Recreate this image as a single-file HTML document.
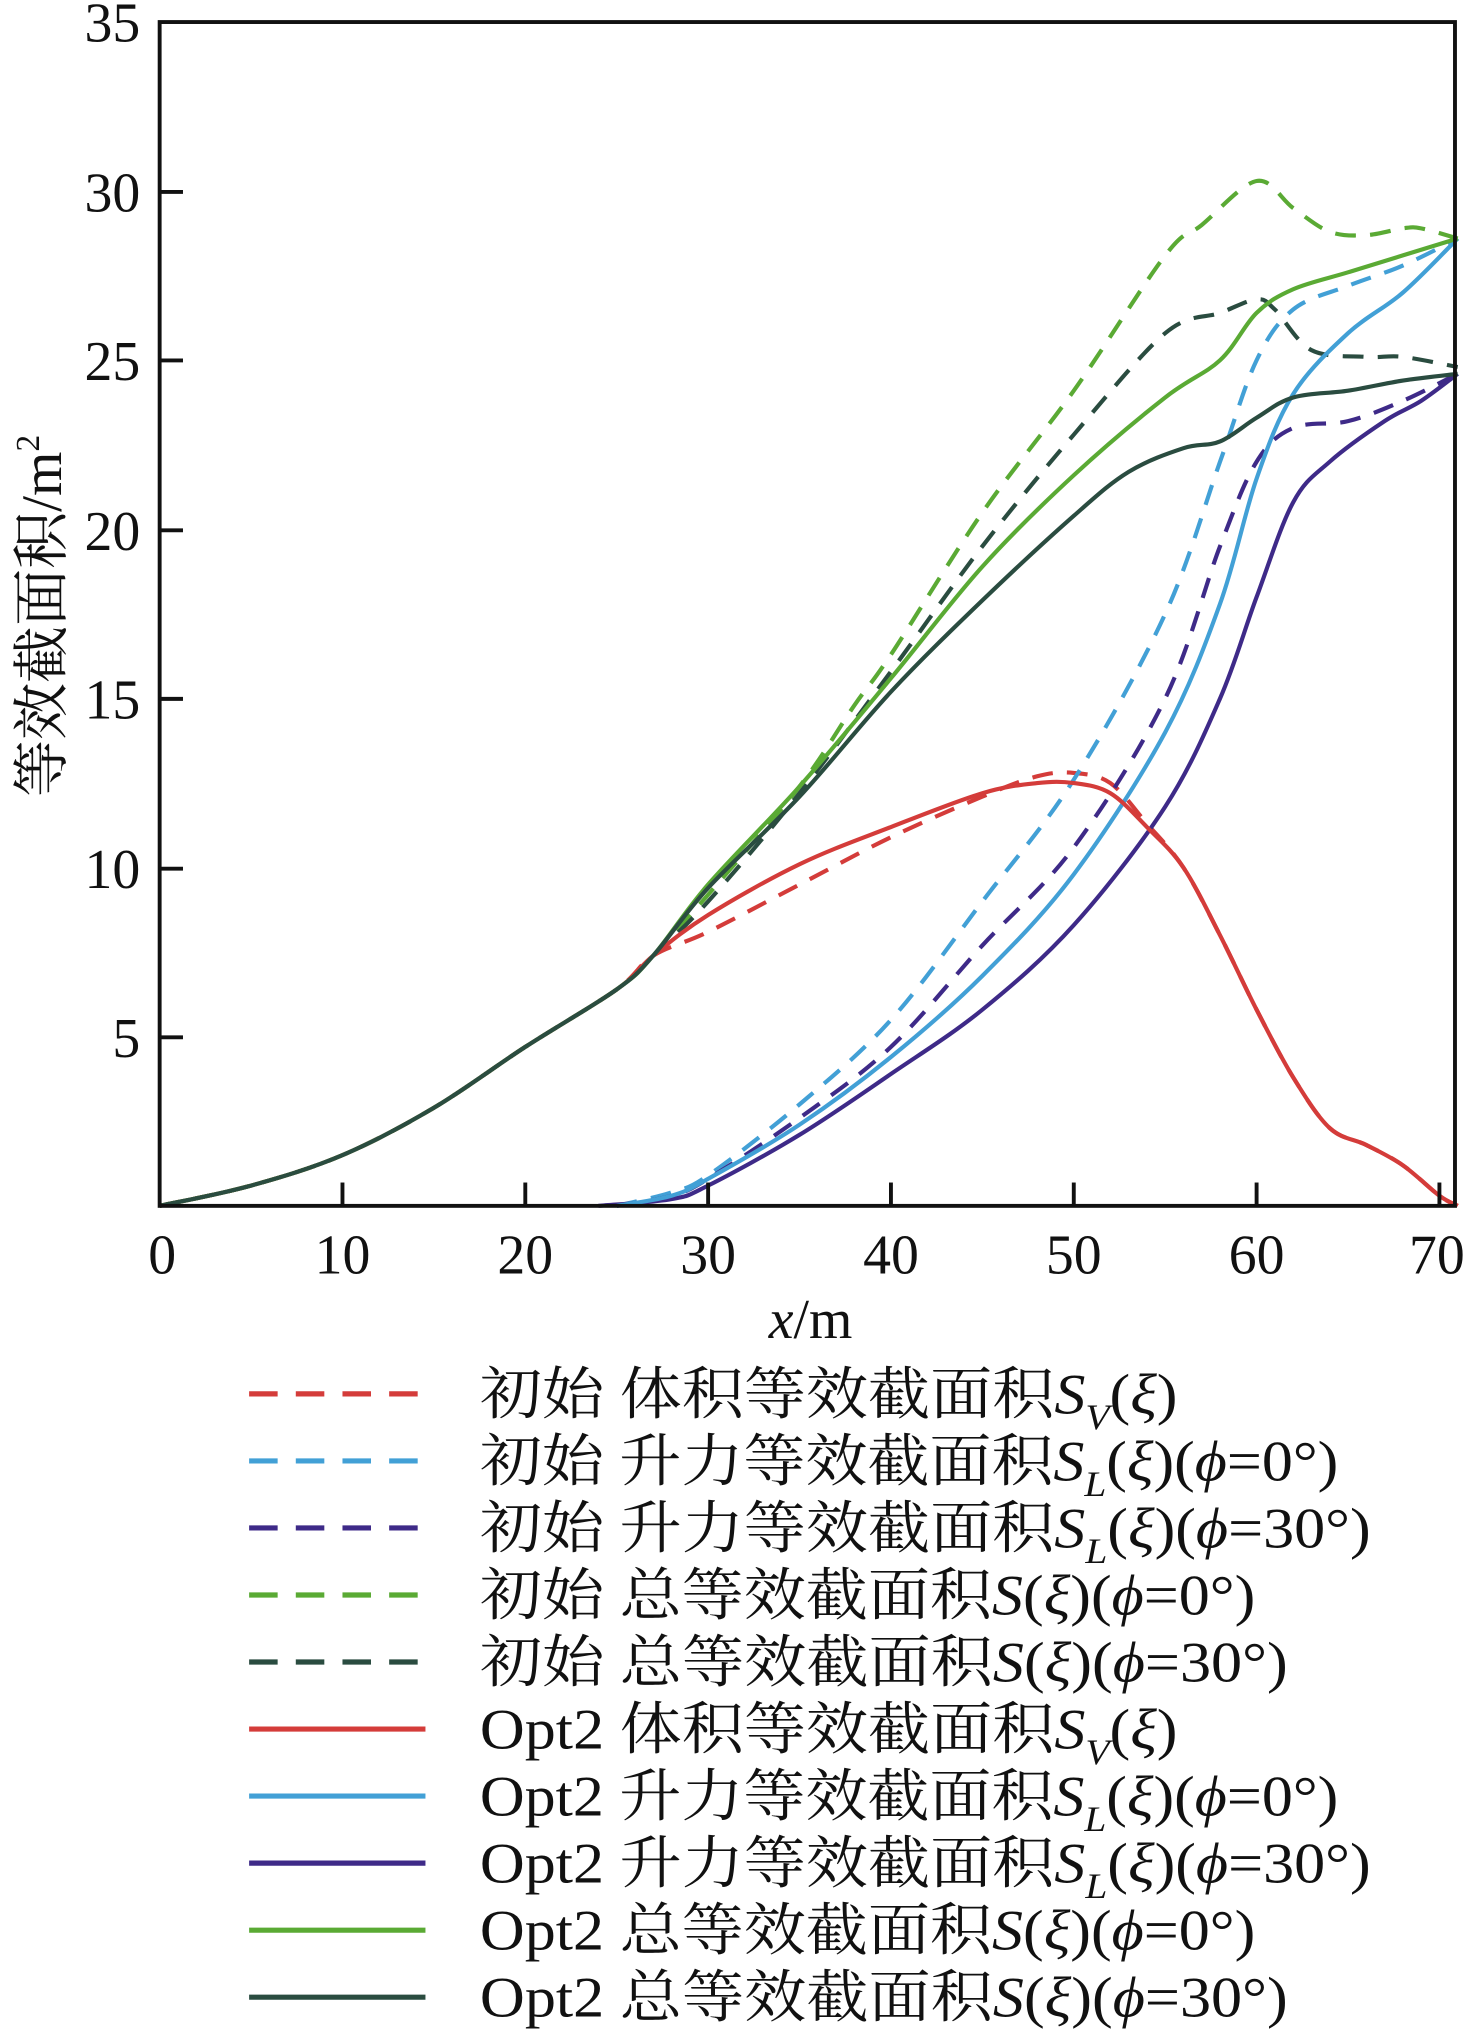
<!DOCTYPE html>
<html><head><meta charset="utf-8">
<style>
html,body{margin:0;padding:0;background:#fff;}
svg{display:block;}
text{font-family:"Liberation Serif","Noto Serif CJK SC",serif;fill:#111;}
</style></head>
<body>
<svg id="s" width="1472" height="2037" viewBox="0 0 1135 1571" xmlns="http://www.w3.org/2000/svg">
<rect x="0" y="0" width="1135" height="1571" fill="#fff"/>
<g id="curves"></g>
<rect x="123" y="17" width="999" height="913" fill="none" stroke="#111" stroke-width="3"/>
<g stroke="#111" stroke-width="3">
<line x1="264" y1="930" x2="264" y2="912"/><line x1="405" y1="930" x2="405" y2="912"/>
<line x1="546" y1="930" x2="546" y2="912"/><line x1="687" y1="930" x2="687" y2="912"/>
<line x1="828" y1="930" x2="828" y2="912"/><line x1="969" y1="930" x2="969" y2="912"/>
<line x1="1110" y1="930" x2="1110" y2="912"/>
<line x1="123" y1="800" x2="141" y2="800"/><line x1="123" y1="670" x2="141" y2="670"/>
<line x1="123" y1="539" x2="141" y2="539"/><line x1="123" y1="409" x2="141" y2="409"/>
<line x1="123" y1="278" x2="141" y2="278"/><line x1="123" y1="148" x2="141" y2="148"/>
</g>
<g font-size="43" text-anchor="end">
<text x="108" y="815">5</text><text x="108" y="685">10</text><text x="108" y="554">15</text>
<text x="108" y="424">20</text><text x="108" y="293">25</text><text x="108" y="163">30</text><text x="108" y="32">35</text>
</g>
<g font-size="43" text-anchor="middle">
<text x="125" y="982">0</text><text x="264" y="982">10</text><text x="405" y="982">20</text>
<text x="546" y="982">30</text><text x="687" y="982">40</text><text x="828" y="982">50</text>
<text x="969" y="982">60</text><text x="1108" y="982">70</text>
<text x="625" y="1032"><tspan font-style="italic">x</tspan>/m</text>
</g>
<text font-size="44" transform="translate(47,475) rotate(-90)" text-anchor="middle">等效截面积/m<tspan font-size="26" dy="-17">2</tspan></text>
<g id="legend"></g>
</svg>
<script>
var X=function(v){return 123+v*14.1;}, Y=function(v){return 930-v*26.086;};
var base=[[0,0],[5,0.6],[10,1.5],[15,2.9],[20,4.7],[25,6.4],[27,7.4]];
var S={
gs:base.concat([[30,9.5],[35,12.4],[40,15.6],[45,18.9],[50,21.6],[55,23.9],[58,25],[60,26.4],[62,27.1],[65,27.6],[68,28.1],[71,28.6]]),
ds:base.concat([[30,9.4],[35,12.1],[40,15.2],[45,17.9],[50,20.4],[53,21.7],[56,22.4],[58,22.6],[60,23.3],[62,23.9],[65,24.1],[68,24.4],[71,24.6]]),
gd:base.concat([[30,9.2],[35,12.4],[38,14.8],[40,16.3],[45,20.5],[50,24.1],[55,28.1],[57,29],[60,30.3],[62,29.5],[64,28.8],[66,28.7],[68,28.9],[69,28.9],[71,28.6]]),
dd:base.concat([[30,9],[35,12.2],[40,15.8],[45,19.5],[50,22.8],[55,25.8],[58,26.4],[60,26.8],[61,26.5],[63,25.3],[66,25.1],[68,25.1],[71,24.8]]),
rs:base.concat([[30,8.6],[35,10.1],[40,11.2],[45,12.2],[48,12.5],[50,12.5],[52,12.2],[54,11.2],[56,10],[58,8],[60,5.8],[62,3.8],[64,2.3],[66,1.8],[68,1.2],[70,0.3],[71,0]]),
rd:base.concat([[30,8.1],[35,9.5],[40,10.9],[45,12.1],[48,12.7],[50,12.8],[52,12.5],[54,11.3],[56,10],[58,8],[60,5.8],[62,3.8],[64,2.3],[66,1.8],[68,1.2],[70,0.3],[71,0]]),
bs:[[25,0],[28,0.3],[30,0.8],[35,2.4],[40,4.4],[45,6.8],[50,9.8],[55,14],[58,17.8],[60,21.5],[62,24],[65,25.8],[68,27],[71,28.6]],
bd:[[25,0],[28,0.4],[30,0.9],[35,3],[40,5.5],[45,9],[50,12.6],[55,17.5],[58,22],[60,25],[62,26.5],[65,27.2],[68,27.8],[71,28.6]],
ps:[[24,0],[28,0.2],[30,0.6],[35,2.1],[40,3.9],[45,5.8],[50,8.3],[55,11.8],[58,15],[60,18],[62,20.8],[64,22],[67,23.2],[69,23.8],[71,24.6]],
pd:[[25,0],[28,0.3],[30,0.8],[35,2.6],[40,4.7],[45,7.7],[50,10.6],[55,15],[58,19.5],[60,22],[62,23],[65,23.2],[68,23.8],[71,24.6]]
};
function path(p){var q=p.map(function(a){return [X(a[0]),Y(a[1])];});
var d="M"+q[0][0]+","+q[0][1];
for(var i=0;i<q.length-1;i++){var p0=q[i-1]||q[i],p1=q[i],p2=q[i+1],p3=q[i+2]||p2;
d+=" C"+(p1[0]+(p2[0]-p0[0])/6)+","+(p1[1]+(p2[1]-p0[1])/6)+" "+(p2[0]-(p3[0]-p1[0])/6)+","+(p2[1]-(p3[1]-p1[1])/6)+" "+p2[0]+","+p2[1];}
return d;}
var C={r:"#d43c3a",b:"#42a0d6",p:"#3e2a88",g:"#5aaa34",d:"#2a4c40"};
var order=["rd","bd","pd","gd","dd","ps","bs","rs","gs","ds"];
var g=document.getElementById("curves"),h="";
order.forEach(function(k){var dash=k[1]=="d"?' stroke-dasharray="16 11"':'';
h+='<path d="'+path(S[k])+'" fill="none" stroke="'+C[k[0]]+'" stroke-width="3.2"'+dash+' stroke-linejoin="round"/>';});
g.innerHTML=h;
var L=[["rd","初始 体积等效截面积","V","",908],["bd","初始 升力等效截面积","L","(<tspan font-style='italic'>ϕ</tspan>=0°)",1032],
["pd","初始 升力等效截面积","L","(<tspan font-style='italic'>ϕ</tspan>=30°)",1057],["gd","初始 总等效截面积","","(<tspan font-style='italic'>ϕ</tspan>=0°)",968],
["dd","初始 总等效截面积","","(<tspan font-style='italic'>ϕ</tspan>=30°)",993],["rs","Opt2 体积等效截面积","V","",908],
["bs","Opt2 升力等效截面积","L","(<tspan font-style='italic'>ϕ</tspan>=0°)",1032],["ps","Opt2 升力等效截面积","L","(<tspan font-style='italic'>ϕ</tspan>=30°)",1057],
["gs","Opt2 总等效截面积","","(<tspan font-style='italic'>ϕ</tspan>=0°)",968],["ds","Opt2 总等效截面积","","(<tspan font-style='italic'>ϕ</tspan>=30°)",993]];
var lg="";
L.forEach(function(r,i){var y=1075+i*51.7;var dash=r[0][1]=="d"?' stroke-dasharray="22 14"':'';
lg+='<line x1="192" y1="'+y+'" x2="328" y2="'+y+'" stroke="'+C[r[0][0]]+'" stroke-width="4"'+dash+'/>';
var sub=r[2]?'<tspan font-style="italic" font-size="28" dy="12">'+r[2]+'</tspan><tspan dy="-12">(</tspan>':'(';
lg+='<text x="370" y="'+(y+15)+'" font-size="44" textLength="'+(r[4]-370)+'" lengthAdjust="spacingAndGlyphs">'+r[1]+'<tspan font-style="italic">S</tspan>'+sub+'<tspan font-style="italic">ξ</tspan>)'+r[3]+'</text>';});
document.getElementById("legend").innerHTML=lg;
</script>
</body></html>
